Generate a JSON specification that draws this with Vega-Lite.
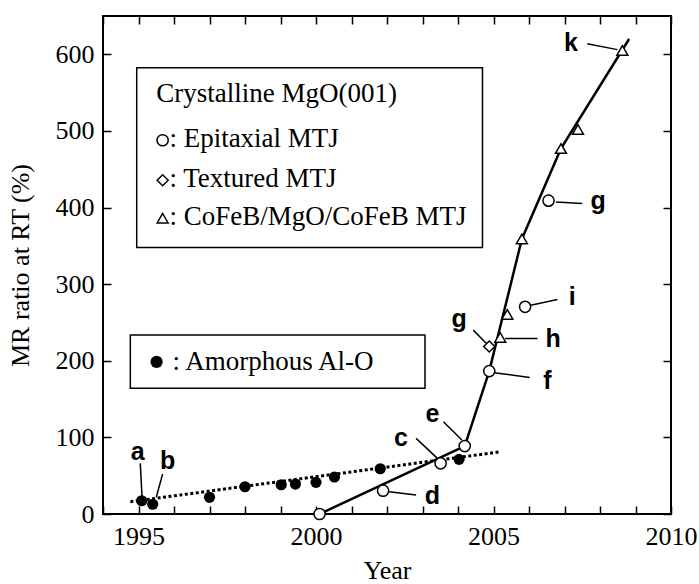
{
  "$schema": "https://vega.github.io/schema/vega-lite/v6.json",
  "width": 568,
  "height": 498,
  "autosize": {"type": "none"},
  "padding": {"left": 103, "top": 16, "right": 28, "bottom": 70},
  "background": "white",
  "config": {
    "view": {"stroke": "black", "strokeWidth": 2},
    "axis": {"grid": false, "domain": false, "tickColor": "black", "tickWidth": 1.5, "labelColor": "black", "titleColor": "black", "labelFont": "Liberation Serif", "titleFont": "Liberation Serif", "labelFontSize": 26, "titleFontSize": 26, "titleFontWeight": "normal"}
  },
  "datasets": {
    "alo": [
      {"year": 1995.09, "mr": 17.3}, {"year": 1995.40, "mr": 12.7}, {"year": 1997.00, "mr": 21.8},
      {"year": 1998.00, "mr": 35.6}, {"year": 1999.02, "mr": 38.2}, {"year": 1999.42, "mr": 39.1},
      {"year": 2000.00, "mr": 41.3}, {"year": 2000.52, "mr": 48.3}, {"year": 2001.81, "mr": 59.1},
      {"year": 2004.03, "mr": 71.3}
    ],
    "mgo": [
      {"year": 2000.1, "mr": 0, "type": "Epitaxial"},
      {"year": 2001.89, "mr": 30.4, "type": "Epitaxial"},
      {"year": 2003.51, "mr": 66.1, "type": "Epitaxial"},
      {"year": 2004.19, "mr": 88.7, "type": "Epitaxial"},
      {"year": 2004.88, "mr": 186.5, "type": "Epitaxial"},
      {"year": 2005.89, "mr": 270.4, "type": "Epitaxial"},
      {"year": 2006.55, "mr": 409, "type": "Epitaxial"},
      {"year": 2004.88, "mr": 218.6, "type": "Textured"},
      {"year": 2005.19, "mr": 230.5, "type": "CoFeB"},
      {"year": 2005.39, "mr": 260.5, "type": "CoFeB"},
      {"year": 2005.80, "mr": 359, "type": "CoFeB"},
      {"year": 2006.90, "mr": 477, "type": "CoFeB"},
      {"year": 2007.38, "mr": 502, "type": "CoFeB"},
      {"year": 2008.63, "mr": 605, "type": "CoFeB"}
    ],
    "fit": [{"year": 1994.77, "mr": 16}, {"year": 2005.21, "mr": 81.3}],
    "trend": [
      {"year": 2000.1, "mr": 0}, {"year": 2004.19, "mr": 88.7}, {"year": 2004.88, "mr": 186.5},
      {"year": 2005.80, "mr": 359}, {"year": 2006.90, "mr": 477}, {"year": 2008.82, "mr": 620}
    ],
    "leaders": [
      {"x1": 1995.10, "y1": 22.6, "x2": 1995.05, "y2": 66.1},
      {"x1": 1995.50, "y1": 21.8, "x2": 1995.68, "y2": 52.2},
      {"x1": 2002.82, "y1": 98.7, "x2": 2003.42, "y2": 72.6},
      {"x1": 2002.06, "y1": 29.1, "x2": 2002.82, "y2": 24.8},
      {"x1": 2003.59, "y1": 120.4, "x2": 2004.11, "y2": 96.5},
      {"x1": 2005.02, "y1": 184.3, "x2": 2006.02, "y2": 178.3},
      {"x1": 2004.43, "y1": 240, "x2": 2004.80, "y2": 222.6},
      {"x1": 2005.33, "y1": 229.2, "x2": 2006.24, "y2": 229.2},
      {"x1": 2006.05, "y1": 272.6, "x2": 2006.80, "y2": 280},
      {"x1": 2006.76, "y1": 407.3, "x2": 2007.50, "y2": 405.2},
      {"x1": 2007.64, "y1": 613.9, "x2": 2008.49, "y2": 606.1}
    ],
    "labels": [
      {"year": 1994.98, "mr": 81, "text": "a"},
      {"year": 1995.82, "mr": 69, "text": "b"},
      {"year": 2002.39, "mr": 99, "text": "c"},
      {"year": 2003.28, "mr": 24, "text": "d"},
      {"year": 2003.28, "mr": 130, "text": "e"},
      {"year": 2006.52, "mr": 174, "text": "f"},
      {"year": 2004.03, "mr": 255, "text": "g"},
      {"year": 2006.68, "mr": 228, "text": "h"},
      {"year": 2007.22, "mr": 283, "text": "i"},
      {"year": 2007.95, "mr": 409, "text": "g"},
      {"year": 2007.18, "mr": 615, "text": "k"}
    ],
    "boxes": [
      {"x1": 1994.95, "x2": 2004.69, "y1": 582.6, "y2": 347.8},
      {"x1": 1994.77, "x2": 2003.07, "y1": 233.5, "y2": 164.0}
    ],
    "legsym": [
      {"year": 1995.68, "mr": 487.8, "type": "Epitaxial"},
      {"year": 1995.68, "mr": 435.6, "type": "Textured"},
      {"year": 1995.68, "mr": 386.1, "type": "CoFeB"}
    ],
    "legalo": [{"year": 1995.51, "mr": 198.6}],
    "legtext": [
      {"year": 1995.50, "mr": 537.8, "text": "Crystalline MgO(001)"},
      {"year": 1995.87, "mr": 479.1, "text": ": Epitaxial MTJ"},
      {"year": 1995.87, "mr": 426.9, "text": ": Textured MTJ"},
      {"year": 1995.87, "mr": 376.9, "text": ": CoFeB/MgO/CoFeB MTJ"},
      {"year": 1995.96, "mr": 187.8, "text": ": Amorphous Al-O"}
    ]
  },
  "layer": [
    {
      "data": {"name": "fit"},
      "mark": {"type": "line", "color": "black", "strokeWidth": 3, "strokeDash": [3, 2.5]},
      "encoding": {
        "x": {"field": "year", "type": "quantitative", "scale": {"domain": [1994, 2010], "nice": false, "zero": false},
          "axis": {"orient": "bottom", "values": [1994,1995,1996,1997,1998,1999,2000,2001,2002,2003,2004,2005,2006,2007,2008,2009,2010],
            "labelExpr": "datum.value % 5 == 0 ? format(datum.value, 'd') : ''", "labelOverlap": false, "labelFlush": false,
            "offset": -8, "tickSize": 8, "labelPadding": 9, "title": "Year", "titleBaseline": "alphabetic", "titleY": 72}},
        "y": {"field": "mr", "type": "quantitative", "scale": {"domain": [0, 650], "nice": false},
          "axis": {"orient": "left", "values": [0,100,200,300,400,500,600], "format": "d", "offset": -8, "tickSize": 8, "labelPadding": 9,
            "title": "MR ratio at RT (%)", "titlePadding": 22}}
      }
    },
    {
      "data": {"name": "trend"},
      "mark": {"type": "line", "color": "black", "strokeWidth": 2.5},
      "encoding": {
        "x": {"field": "year", "type": "quantitative",
          "axis": {"orient": "top", "values": [1994,1995,1996,1997,1998,1999,2000,2001,2002,2003,2004,2005,2006,2007,2008,2009,2010],
            "labels": false, "offset": -8, "tickSize": 8, "title": null}},
        "y": {"field": "mr", "type": "quantitative",
          "axis": {"orient": "right", "values": [0,100,200,300,400,500,600], "labels": false, "offset": -8, "tickSize": 8, "title": null}}
      }
    },
    {
      "data": {"name": "boxes"},
      "mark": {"type": "rect", "fill": "white", "stroke": "black", "strokeWidth": 1.5},
      "encoding": {
        "x": {"field": "x1", "type": "quantitative", "axis": null},
        "x2": {"field": "x2"},
        "y": {"field": "y1", "type": "quantitative", "axis": null},
        "y2": {"field": "y2"}
      }
    },
    {
      "data": {"name": "leaders"},
      "mark": {"type": "rule", "color": "black", "strokeWidth": 1.5},
      "encoding": {
        "x": {"field": "x1", "type": "quantitative", "axis": null},
        "x2": {"field": "x2"},
        "y": {"field": "y1", "type": "quantitative", "axis": null},
        "y2": {"field": "y2"}
      }
    },
    {
      "data": {"name": "alo"},
      "mark": {"type": "point", "shape": "circle", "filled": true, "color": "black", "size": 125, "opacity": 1},
      "encoding": {
        "x": {"field": "year", "type": "quantitative", "axis": null},
        "y": {"field": "mr", "type": "quantitative", "axis": null}
      }
    },
    {
      "data": {"name": "legalo"},
      "mark": {"type": "point", "shape": "circle", "filled": true, "color": "black", "size": 150, "opacity": 1},
      "encoding": {
        "x": {"field": "year", "type": "quantitative", "axis": null},
        "y": {"field": "mr", "type": "quantitative", "axis": null}
      }
    },
    {
      "data": {"name": "mgo"},
      "mark": {"type": "point", "fill": "white", "stroke": "black", "strokeWidth": 1.5, "opacity": 1, "fillOpacity": 1},
      "encoding": {
        "x": {"field": "year", "type": "quantitative", "axis": null},
        "y": {"field": "mr", "type": "quantitative", "axis": null},
        "shape": {"field": "type", "type": "nominal", "scale": {"domain": ["Epitaxial", "Textured", "CoFeB"], "range": ["circle", "diamond", "triangle-up"]}, "legend": null},
        "size": {"field": "type", "type": "nominal", "scale": {"domain": ["Epitaxial", "Textured", "CoFeB"], "range": [125, 120, 175]}, "legend": null}
      }
    },
    {
      "data": {"name": "legsym"},
      "mark": {"type": "point", "fill": "white", "stroke": "black", "strokeWidth": 1.5, "opacity": 1, "fillOpacity": 1},
      "encoding": {
        "x": {"field": "year", "type": "quantitative", "axis": null},
        "y": {"field": "mr", "type": "quantitative", "axis": null},
        "shape": {"field": "type", "type": "nominal", "scale": {"domain": ["Epitaxial", "Textured", "CoFeB"], "range": ["circle", "diamond", "triangle-up"]}, "legend": null},
        "size": {"field": "type", "type": "nominal", "scale": {"domain": ["Epitaxial", "Textured", "CoFeB"], "range": [125, 120, 175]}, "legend": null}
      }
    },
    {
      "data": {"name": "legtext"},
      "mark": {"type": "text", "align": "left", "baseline": "alphabetic", "font": "Liberation Serif", "fontSize": 27, "color": "black"},
      "encoding": {
        "x": {"field": "year", "type": "quantitative", "axis": null},
        "y": {"field": "mr", "type": "quantitative", "axis": null},
        "text": {"field": "text"}
      }
    },
    {
      "data": {"name": "labels"},
      "mark": {"type": "text", "align": "center", "baseline": "middle", "font": "Liberation Sans", "fontWeight": "bold", "fontSize": 25, "color": "black"},
      "encoding": {
        "x": {"field": "year", "type": "quantitative", "axis": null},
        "y": {"field": "mr", "type": "quantitative", "axis": null},
        "text": {"field": "text"}
      }
    }
  ],
  "resolve": {"axis": {"x": "independent", "y": "independent"}}
}
